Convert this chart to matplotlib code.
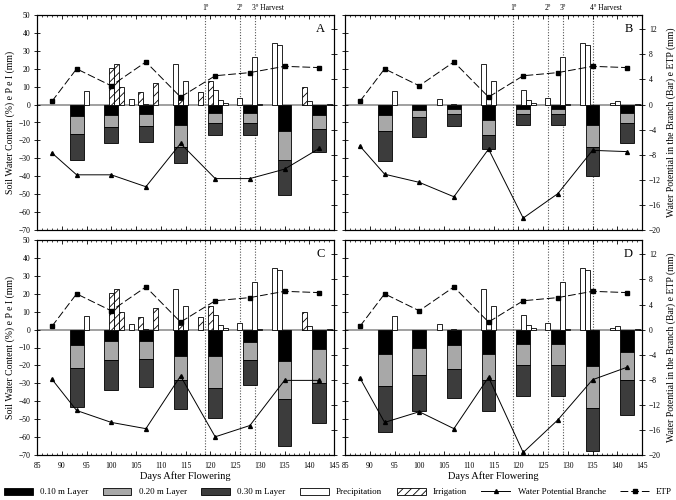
import matplotlib
matplotlib.use("Agg")
import matplotlib.pyplot as plt
from matplotlib.patches import Patch
from matplotlib.lines import Line2D
from matplotlib.ticker import MultipleLocator

plt.rcParams['font.family'] = ['Liberation Serif', 'DejaVu Serif']
plt.rcParams['hatch.linewidth'] = 0.6

# ---------------- data ----------------
soil_days = [93, 100, 107, 114, 121, 128, 135, 142]
line_days = [88, 93, 100, 107, 114, 121, 128, 135, 142]

# soil water content per layer (%), panels A-D
layer10 = {
    'A': [-6.5, -5.8, -5.2, -11.6, -4.5, -4.5, -14.5, -6.0],
    'B': [-6.0, -2.8, -2.4, -8.7, -2.2, -2.2, -11.5, -4.5],
    'C': [-8.4, -6.5, -6.5, -15.0, -15.0, -6.9, -17.6, -10.7],
    'D': [-13.5, -10.3, -8.6, -13.5, -7.9, -7.9, -20.2, -12.3],
}
layer20 = {
    'A': [-10.1, -6.7, -6.6, -11.9, -6.0, -6.0, -16.4, -7.8],
    'B': [-8.9, -4.1, -3.0, -8.0, -3.2, -3.2, -12.1, -5.7],
    'C': [-13.1, -10.7, -9.8, -13.0, -17.7, -9.9, -21.1, -19.2],
    'D': [-17.9, -15.3, -13.3, -14.5, -12.1, -12.1, -23.7, -15.7],
}
layer30 = {
    'A': [-14.3, -8.7, -8.9, -8.9, -6.6, -6.6, -19.5, -12.5],
    'B': [-16.5, -11.1, -6.7, -7.9, -5.8, -5.8, -16.2, -11.2],
    'C': [-21.9, -16.4, -15.5, -16.3, -16.6, -14.0, -26.2, -22.4],
    'D': [-25.6, -19.6, -16.4, -17.2, -16.8, -16.8, -23.8, -19.7],
}

precip_days = [95, 104, 107, 113, 115, 121, 122, 123, 126, 129, 130, 133, 134, 139, 140, 144]
precip_vals = [7.8, 3.3, 0.5, 22.7, 13.0, 8.0, 2.3, 0.8, 3.8, 26.6, 0.5, 34.6, 33.5, 1.0, 2.0, 0.5]

irrig_days = [100, 101, 102, 106, 109, 114, 118, 120, 139]
irrig_vals = [20.2, 22.5, 9.6, 7.0, 12.2, 2.5, 7.0, 13.3, 10.0]

etp = [0.5, 5.7, 3.0, 6.8, 1.2, 4.6, 5.1, 6.1, 5.9]
water_potential = {
    'A': [-7.7, -11.2, -11.2, -13.1, -6.2, -11.8, -11.8, -10.3, -7.0],
    'B': [-6.6, -11.1, -12.4, -14.7, -7.1, -18.1, -14.2, -7.3, -7.5],
    'C': [-7.9, -12.9, -14.8, -15.8, -7.4, -17.1, -15.3, -8.1, -8.1],
    'D': [-7.7, -14.8, -13.1, -15.8, -7.6, -19.6, -14.4, -8.0, -6.0],
}

harvest_left = [119, 126, 129]
harvest_right = [119, 126, 129, 135]
harvest_labels_left = ['1º', '2º', '3º Harvest']
harvest_labels_right = ['1º', '2º', '3º', '4º Harvest']

xticks = list(range(85, 146, 5))
left_ticks = list(range(-70, 51, 10))
right_ticks = list(range(-20, 13, 4))

c10, c20, c30 = '#000000', '#a8a8a8', '#3c3c3c'

fig = plt.figure(figsize=(6.76, 5.0), dpi=100)
W = 297 / 676
H = 0.43
pos = {
    'A': [37 / 676, 0.54, W, H],
    'B': [345 / 676, 0.54, W, H],
    'C': [37 / 676, 0.09, W, H],
    'D': [345 / 676, 0.09, W, H],
}

for key in ['A', 'B', 'C', 'D']:
    ax = fig.add_axes(pos[key])
    is_left = key in ('A', 'C')
    is_bottom = key in ('C', 'D')
    l1 = layer10[key]
    l2 = layer20[key]
    l3 = layer30[key]
    b2 = l1
    b3 = [a + b for a, b in zip(l1, l2)]
    ax.axhline(0, color='#909090', lw=1.2, zorder=1)
    ax.bar(soil_days, l1, width=2.8, color=c10, edgecolor='black', lw=0.6, zorder=2)
    ax.bar(soil_days, l2, width=2.8, bottom=b2, color=c20, edgecolor='black', lw=0.6, zorder=2)
    ax.bar(soil_days, l3, width=2.8, bottom=b3, color=c30, edgecolor='black', lw=0.6, zorder=2)
    ax.bar(precip_days, precip_vals, width=1.0, color='white', edgecolor='black', lw=0.6, zorder=3)
    if is_left:
        ax.bar(irrig_days, irrig_vals, width=1.0, color='white', edgecolor='black', lw=0.6,
               hatch='////', zorder=4)
    hv = harvest_left if is_left else harvest_right
    hl = harvest_labels_left if is_left else harvest_labels_right
    for d in hv:
        ax.axvline(d, color='#555555', lw=0.8, ls=(0, (1, 1.5)), zorder=1)
    if not is_bottom:
        for d, lab in zip(hv, hl):
            if 'Harvest' in lab:
                ax.text(d - 0.6, 51.5, lab, fontsize=5.5, ha='left', va='bottom')
            else:
                ax.text(d, 51.5, lab, fontsize=5.5, ha='center', va='bottom')
    ax.set_xlim(85, 145)
    ax.set_ylim(-70, 50)
    ax.set_xticks(xticks)
    ax.xaxis.set_minor_locator(MultipleLocator(1))
    ax.set_yticks(left_ticks)
    ax.tick_params(axis='x', which='major', direction='in', length=3, width=0.6,
                   top=True, bottom=True, labelsize=5.5, pad=5)
    ax.tick_params(axis='x', which='minor', direction='in', length=1.5, width=0.5,
                   top=True, bottom=True)
    ax.tick_params(axis='y', direction='inout', length=4, width=0.6, labelsize=5.5,
                   labelleft=is_left, pad=3)
    if not is_bottom:
        ax.tick_params(axis='x', labelbottom=False)
    else:
        ax.set_xlabel('Days After Flowering', fontsize=7.5, labelpad=1)
    if is_left:
        ax.set_ylabel('Soil Water Content (%) e P e I (mm)', fontsize=7, labelpad=2)
    for s in ax.spines.values():
        s.set_linewidth(0.8)
    ax.text(0.955, 0.935, key, transform=ax.transAxes, fontsize=9, ha='center', va='center')

    ax2 = ax.twinx()
    ax2.set_ylim(-20, 20 * 50 / 70)
    ax2.set_yticks(right_ticks)
    ax2.tick_params(axis='y', direction='inout', length=4, width=0.6, labelsize=5.5,
                    labelright=not is_left, pad=3)
    ax2.plot(line_days, etp, color='black', lw=0.7, ls=(0, (8, 3)), marker='s',
             markersize=2.2, zorder=5)
    ax2.plot(line_days, water_potential[key], color='black', lw=0.7, marker='^',
             markersize=2.8, zorder=5)
    if not is_left:
        ax2.set_ylabel('Water Potential in the Branch (Bar) e ETP (mm)', fontsize=7, labelpad=4)

handles = [
    Patch(facecolor=c10, edgecolor='black', lw=0.6),
    Patch(facecolor=c20, edgecolor='black', lw=0.6),
    Patch(facecolor=c30, edgecolor='black', lw=0.6),
    Patch(facecolor='white', edgecolor='black', lw=0.6),
    Patch(facecolor='white', edgecolor='black', lw=0.6, hatch='////'),
    Line2D([], [], color='black', lw=0.7, marker='^', markersize=2.8),
    Line2D([], [], color='black', lw=0.7, ls=(0, (8, 3)), marker='s', markersize=2.2),
]
labels = ['0.10 m Layer', '0.20 m Layer', '0.30 m Layer', 'Precipitation', 'Irrigation',
          'Water Potential Branche', 'ETP']
fig.legend(handles, labels, loc='center', bbox_to_anchor=(0.5, 0.016), ncol=7, frameon=False,
           fontsize=6.5, handlelength=3.2, handleheight=0.8, columnspacing=1.6, handletextpad=0.8,
           borderpad=0.1)

fig.savefig('out.png', dpi=100)
